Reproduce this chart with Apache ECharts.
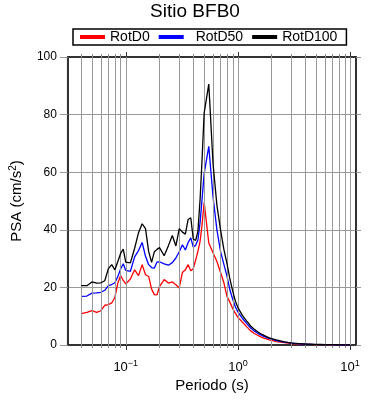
<!DOCTYPE html>
<html>
<head>
<meta charset="utf-8">
<script src="https://cdn.jsdelivr.net/npm/echarts@6/dist/echarts.min.js"></script>
<style>
  html, body { margin: 0; padding: 0; background: #fff; }
  #chart { width: 390px; height: 400px; }
</style>
</head>
<body>
<div id="chart"></div>
<script>
// periodos (s)
var periods = [0.04,0.045,0.05,0.055,0.06,0.065,0.07,0.075,0.08,0.085,0.09,0.095,
  0.1,0.11,0.12,0.13,0.14,0.15,0.16,0.17,0.18,0.19,0.2,
  0.22,0.24,0.26,0.28,0.3,0.32,0.34,0.36,0.38,0.4,0.42,0.44,0.46,0.48,0.5,
  0.55,0.6,0.65,0.7,0.75,0.8,0.85,0.9,0.95,1.0,
  1.1,1.2,1.3,1.4,1.5,1.6,1.7,1.8,1.9,2.0,
  2.2,2.4,2.6,2.8,3.0,3.2,3.4,3.6,3.8,4.0,4.2,4.4,4.6,4.8,5.0,
  5.5,6.0,6.5,7.0,7.5,8.0,8.5,9.0,9.5,10.0];

var rotD0 = [10.9,11.3,11.9,11.3,11.9,13.8,14.0,14.6,16.5,21.5,24.1,22.4,
  21.2,22.9,26.1,24.1,27.9,24.4,23.8,19.4,17.5,17.4,20.3,
  22.7,21.5,21.9,20.9,19.8,25.2,26.1,27.9,25.8,26.5,29.5,32.5,36.0,42.0,49.5,
  35.4,32.0,29.0,25.2,21.6,16.8,14.8,12.6,11.0,9.6,
  7.9,6.3,4.9,4.0,3.4,2.8,2.4,2.1,1.8,1.6,
  1.2,1.0,0.8,0.65,0.52,0.44,0.38,0.33,0.29,0.25,0.22,0.2,0.18,0.16,0.15,
  0.12,0.1,0.08,0.07,0.06,0.05,0.045,0.04,0.035,0.03];

var rotD50 = [16.9,17.0,18.0,18.1,18.3,19.0,20.6,21.0,21.6,23.8,26.4,28.2,
  25.9,25.6,30.6,32.8,35.6,30.8,27.9,26.9,26.7,28.8,28.9,
  28.2,27.7,28.6,30.2,32.4,34.8,33.0,35.6,37.2,34.0,34.6,36.5,42.5,51.0,59.5,
  69.0,51.5,40.0,32.5,28.0,23.8,19.0,15.8,13.2,11.5,
  9.2,7.4,5.9,4.9,4.1,3.5,3.0,2.6,2.3,2.0,
  1.55,1.25,1.0,0.82,0.66,0.55,0.47,0.41,0.36,0.32,0.28,0.25,0.23,0.21,0.19,
  0.16,0.13,0.11,0.095,0.08,0.07,0.06,0.055,0.05,0.045];

var rotD100 = [20.6,20.6,21.9,21.5,21.6,22.3,26.5,27.9,26.1,29.0,31.8,33.3,
  28.8,28.5,33.6,39.0,42.1,40.4,32.5,28.7,32.4,33.2,33.8,
  31.0,34.5,38.0,34.4,40.4,39.2,38.5,43.6,44.2,36.8,36.3,39.5,50.5,65.0,80.5,
  90.6,63.0,48.5,40.0,33.2,28.2,22.8,18.6,15.2,13.0,
  10.2,8.3,6.6,5.5,4.6,3.9,3.4,2.9,2.5,2.2,
  1.75,1.4,1.12,0.92,0.75,0.62,0.53,0.46,0.4,0.35,0.31,0.28,0.25,0.23,0.21,
  0.18,0.15,0.13,0.11,0.095,0.085,0.075,0.065,0.06,0.055];

var majorTicks = [0.1, 1, 10];
var minorTicks = [0.04,0.05,0.06,0.07,0.08,0.09,
  0.2,0.3,0.4,0.5,0.6,0.7,0.8,0.9,
  2,3,4,5,6,7,8,9];
var gridX = [0.04,0.05,0.06,0.07,0.08,0.09,0.1,
  0.2,0.3,0.4,0.5,0.6,0.7,0.8,0.9,1,
  2,3,4,5,6,7,8,9,10];

var font = 'Liberation Sans, Arial, Helvetica, sans-serif';
var xMin = 0.0305, xMax = 11.3;

function pairs(arr) {
    return periods.map(function (p, i) { return [p, arr[i]]; });
}

function xAxisDef(pos, ticks, len, color, labels) {
    return {
        type: 'log',
        logBase: 10,
        position: pos,
        min: xMin,
        max: xMax,
        axisLine: { show: labels !== null, lineStyle: { color: '#333', width: 2 } },
        axisTick: { show: true, inside: false, length: len, customValues: ticks,
            lineStyle: { color: color, width: 1 } },
        axisLabel: labels ? {
            show: true,
            customValues: majorTicks,
            margin: 14,
            formatter: function (v) {
                var e = Math.round(Math.log10(v));
                return '{b|10}{s|' + (e < 0 ? '\u2212' + (-e) : e) + '}';
            },
            rich: {
                b: { fontSize: 13, fontFamily: font, color: '#000', lineHeight: 16 },
                s: { fontSize: 9, fontFamily: font, color: '#000', verticalAlign: 'top', lineHeight: 10 }
            }
        } : { show: false },
        splitLine: { show: false }
    };
}

var myChart = echarts.init(document.getElementById('chart'));
var option = {
    animation: false,
    backgroundColor: '#fff',
    title: {
        text: 'Sitio BFB0',
        left: 'center',
        top: 2,
        padding: 0,
        textStyle: { fontSize: 19, fontWeight: 'normal', color: '#000', fontFamily: font }
    },
    legend: {
        left: 73,
        top: 29,
        padding: [1, 9, 1, 7],
        itemGap: 9,
        itemWidth: 25,
        itemHeight: 4,
        icon: 'rect',
        borderColor: '#000',
        borderWidth: 1.5,
        borderRadius: 0,
        textStyle: { fontSize: 14, color: '#000', fontFamily: font },
        data: [
            'RotD0',
            { name: 'RotD50', textStyle: { padding: [0, 0, 0, 7] } },
            'RotD100'
        ]
    },
    grid: {
        left: 67,
        right: 34,
        top: 57,
        bottom: 55,
        show: true,
        borderColor: '#333',
        borderWidth: 2
    },
    xAxis: [
        Object.assign(xAxisDef('bottom', majorTicks, 5, '#333', true), {
            name: 'Periodo (s)',
            nameLocation: 'middle',
            nameGap: 28,
            nameTextStyle: { fontSize: 15, color: '#000', fontFamily: font }
        }),
        xAxisDef('bottom', minorTicks, 3, '#888', null),
        xAxisDef('top', majorTicks, 5, '#333', false),
        xAxisDef('top', minorTicks, 3, '#888', null)
    ],
    yAxis: [
        {
            type: 'value',
            position: 'left',
            min: 0,
            max: 100,
            interval: 20,
            name: 'PSA (cm/s{s|2})',
            nameLocation: 'middle',
            nameGap: 36,
            nameTextStyle: {
                fontSize: 15, color: '#000', fontFamily: font, lineHeight: 18,
                rich: { s: { fontSize: 10, fontFamily: font, color: '#000', verticalAlign: 'top', lineHeight: 11 } }
            },
            axisLine: { show: true, lineStyle: { color: '#333', width: 2 } },
            axisTick: { show: true, inside: false, length: 8, lineStyle: { color: '#999' } },
            axisLabel: { fontSize: 12, color: '#000', fontFamily: font, margin: 11 },
            splitLine: { show: true, lineStyle: { color: '#999', width: 1 } }
        },
        {
            type: 'value',
            position: 'right',
            min: 0,
            max: 100,
            interval: 20,
            axisLine: { show: true, lineStyle: { color: '#333', width: 2 } },
            axisTick: { show: true, inside: false, length: 5, lineStyle: { color: '#999' } },
            axisLabel: { show: false },
            splitLine: { show: false }
        }
    ],
    series: [
        {
            name: 'grid',
            type: 'line',
            data: [],
            silent: true,
            z: 1,
            markLine: {
                silent: true,
                symbol: ['none', 'none'],
                label: { show: false },
                lineStyle: { color: '#999', width: 1, type: 'solid' },
                emphasis: { disabled: true },
                data: gridX.map(function (v) { return { xAxis: v }; })
            }
        },
        {
            name: 'RotD0',
            type: 'line',
            data: pairs(rotD0),
            showSymbol: false,
            z: 3,
            lineStyle: { color: '#ff0000', width: 1.3 },
            itemStyle: { color: '#ff0000' }
        },
        {
            name: 'RotD50',
            type: 'line',
            data: pairs(rotD50),
            showSymbol: false,
            z: 4,
            lineStyle: { color: '#0000ff', width: 1.3 },
            itemStyle: { color: '#0000ff' }
        },
        {
            name: 'RotD100',
            type: 'line',
            data: pairs(rotD100),
            showSymbol: false,
            z: 5,
            lineStyle: { color: '#000000', width: 1.3 },
            itemStyle: { color: '#000000' }
        }
    ]
};
myChart.setOption(option);
</script>
</body>
</html>
